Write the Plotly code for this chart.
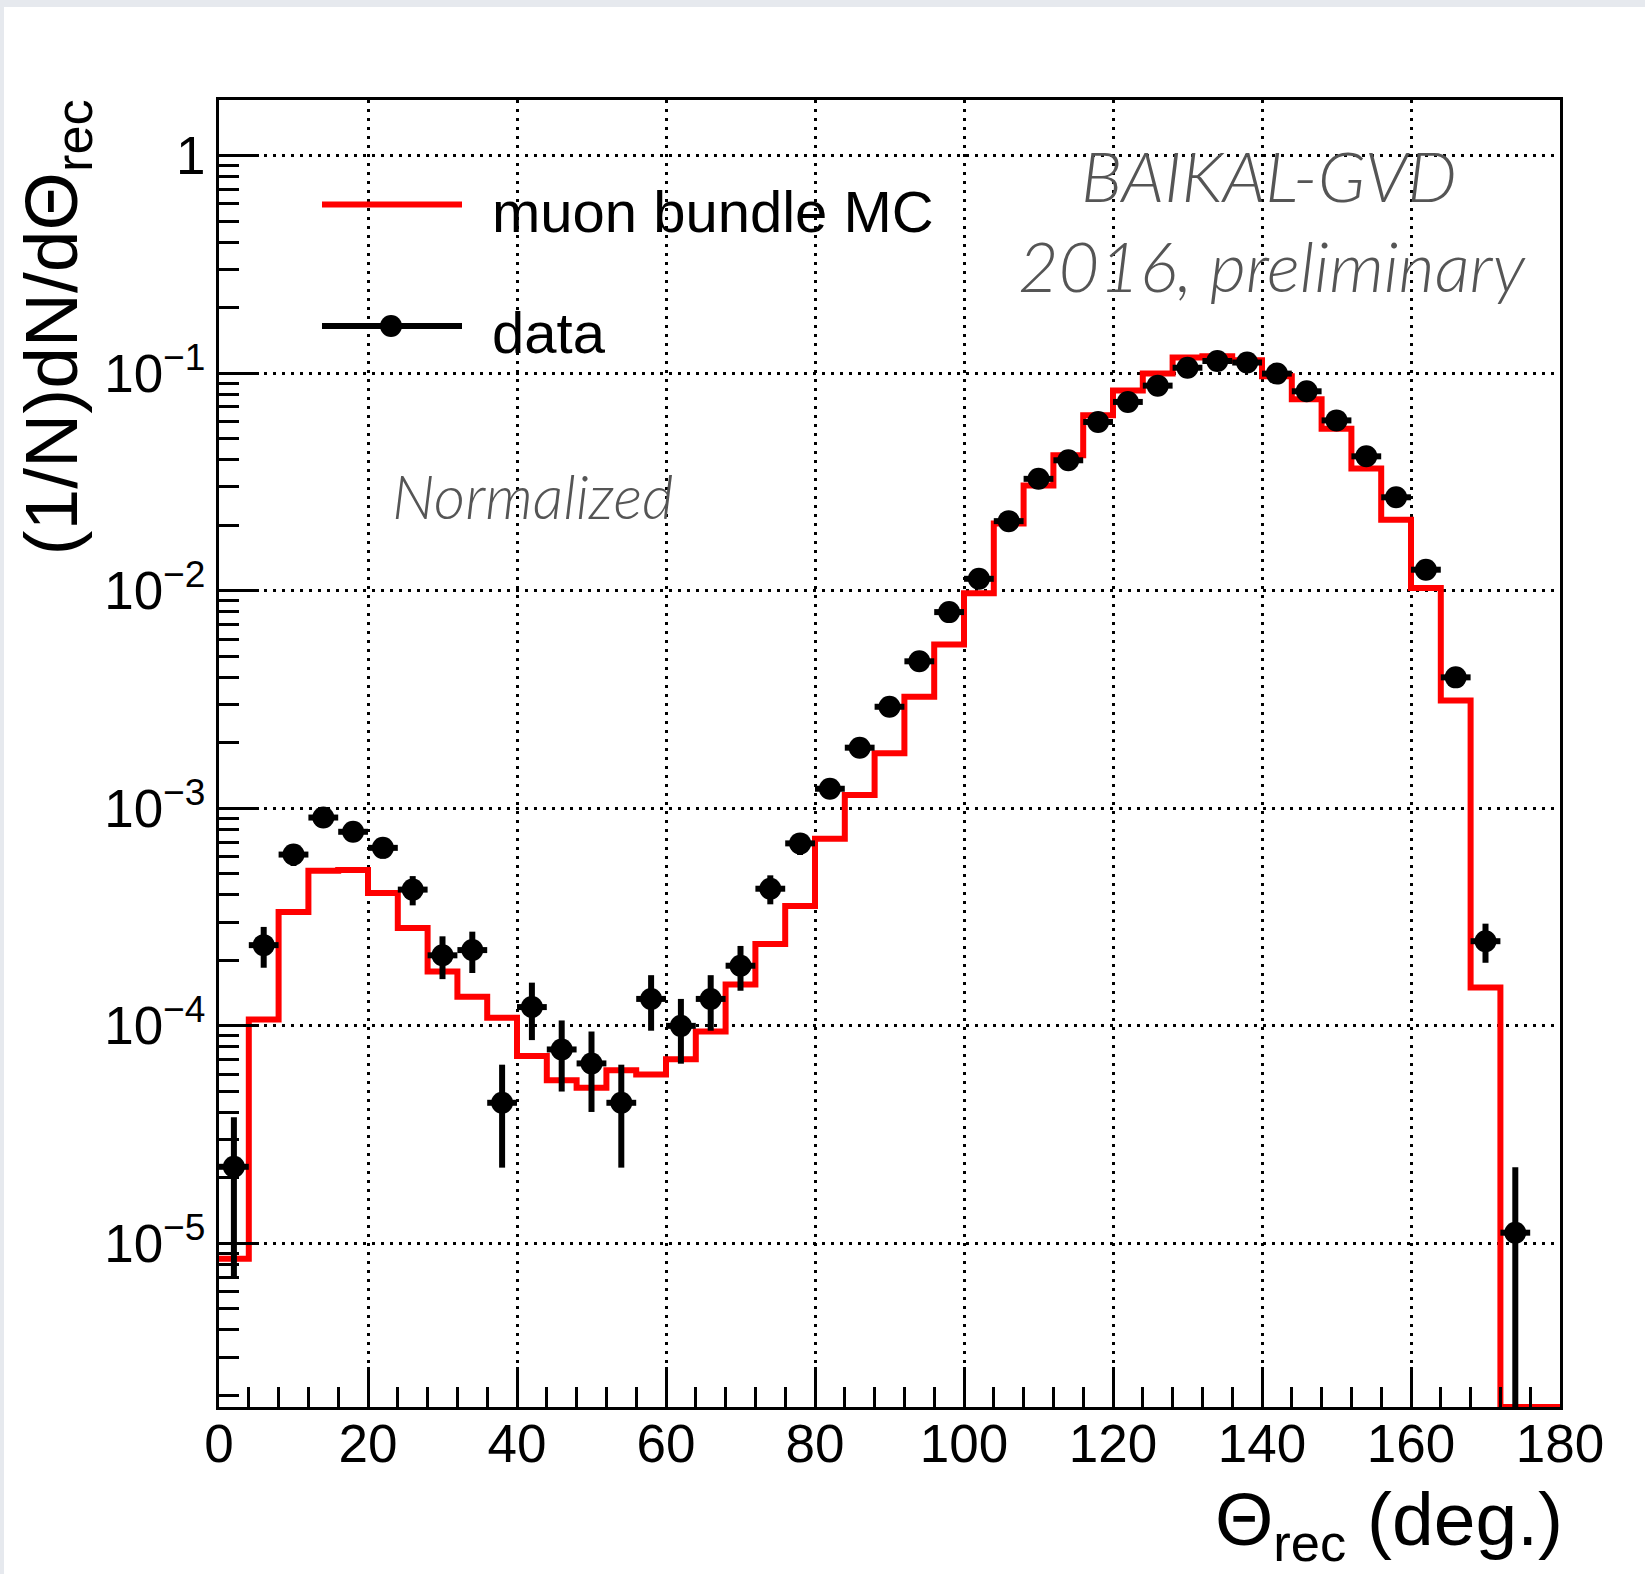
import numpy as np
import plotly.graph_objects as go

# Binning: 45 bins of 4 degrees over 0..180
bin_edges = list(range(0, 181, 4))
bin_centers = [e + 2 for e in bin_edges[:-1]]

# Normalized MC prediction (muon bundles), per bin
mc_values = [
    8.5e-6, 1.07e-4, 3.34e-4, 5.17e-4, 5.2e-4, 4.08e-4, 2.82e-4, 1.78e-4, 1.36e-4,
    1.09e-4, 7.26e-5, 5.63e-5, 5.19e-5, 6.25e-5, 5.98e-5, 7.03e-5, 9.42e-5, 1.55e-4,
    2.38e-4, 3.56e-4, 7.24e-4, 1.15e-3, 1.79e-3, 3.26e-3, 5.67e-3, 9.75e-3, 2.04e-2,
    3.05e-2, 4.20e-2, 6.41e-2, 8.34e-2, 0.0996, 0.118, 0.1196, 0.1146, 0.0968,
    0.0759, 0.0556, 0.0365, 0.0212, 0.0103, 3.13e-3, 1.50e-4, 0.0, 0.0,
]

# Normalized data, per bin (None = empty bin)
data_values = [
    2.25e-5, 2.35e-4, 6.13e-4, 9.07e-4, 7.8e-4, 6.58e-4, 4.23e-4, 2.11e-4, 2.23e-4,
    4.43e-5, 1.22e-4, 7.79e-5, 6.72e-5, 4.43e-5, 1.33e-4, 1.0e-4, 1.33e-4, 1.89e-4,
    4.27e-4, 6.9e-4, 1.23e-3, 1.90e-3, 2.93e-3, 4.74e-3, 7.98e-3, 1.135e-2, 2.09e-2,
    3.27e-2, 3.98e-2, 5.97e-2, 7.38e-2, 8.77e-2, 0.106, 0.1138, 0.112, 0.0996,
    0.0826, 0.0607, 0.0415, 0.0269, 0.0125, 4.0e-3, 2.45e-4, 1.12e-5, None,
]
data_errors = [
    1.55e-5, 5.0e-5, 7.0e-5, 8.0e-5, 7.0e-5, 7.0e-5, 6.5e-5, 4.7e-5, 4.8e-5,
    2.2e-5, 3.6e-5, 2.8e-5, 2.7e-5, 2.2e-5, 3.8e-5, 3.3e-5, 3.8e-5, 4.4e-5,
    6.5e-5, 8.0e-5, 1.0e-4, 1.3e-4, 1.6e-4, 2.0e-4, 2.6e-4, 3.1e-4, 4.2e-4,
    5.3e-4, 5.8e-4, 7.1e-4, 7.9e-4, 8.6e-4, 9.5e-4, 9.8e-4, 9.7e-4, 9.1e-4,
    8.3e-4, 7.1e-4, 5.9e-4, 4.7e-4, 3.2e-4, 1.8e-4, 5.0e-5, 1.12e-5, None,
]

x_ticks = list(range(0, 181, 20))
y_tick_vals = [1e-5, 1e-4, 1e-3, 1e-2, 1e-1, 1.0]
y_tick_text = ["10<sup>−5</sup>", "10<sup>−4</sup>", "10<sup>−3</sup>",
               "10<sup>−2</sup>", "10<sup>−1</sup>", "1"]

Y_RANGE = [-5.752, 0.256]
y_floor = 10 ** Y_RANGE[0]
y_minor = [m * 10.0 ** e for e in range(-6, 1) for m in range(2, 10)
           if Y_RANGE[0] <= np.log10(m * 10.0 ** e) <= Y_RANGE[1]]

W, H = 1645, 1574
L, R, T, B = 219, 85, 100, 167
PW, PH = W - L - R, H - T - B


def px(xp):
    return (xp - L) / PW


def py(yp):
    return (H - B - yp) / PH


SANS = "Liberation Sans, Arial, Helvetica, sans-serif"
LIGHT = "Lato, Open Sans, sans-serif"

fig = go.Figure()

# MC histogram outline (empty bins drop to the axis floor)
mc_plot = [v if v > 0 else y_floor for v in mc_values]
fig.add_trace(go.Scatter(
    x=bin_edges, y=mc_plot + [mc_plot[-1]],
    mode="lines", line=dict(color="#ff0000", width=6, shape="hv"),
    showlegend=False, hoverinfo="skip",
))

# data points with errors
dx = [c for c, v in zip(bin_centers, data_values) if v is not None]
dy = [v for v in data_values if v is not None]
de = [e for e, v in zip(data_errors, data_values) if v is not None]
fig.add_trace(go.Scatter(
    x=dx, y=dy, mode="markers",
    marker=dict(color="black", size=22),
    error_y=dict(type="data", array=de, color="black", thickness=6, width=0),
    error_x=dict(type="data", array=[2] * len(dx), color="black", thickness=6, width=0),
    showlegend=False, hoverinfo="skip",
))

shapes = [
    # light strips along the page edge
    dict(type="rect", xref="paper", yref="paper", x0=px(0), x1=px(W), y0=py(7), y1=py(0),
         fillcolor="#e6e9ee", line=dict(width=0), layer="above"),
    dict(type="rect", xref="paper", yref="paper", x0=px(0), x1=px(4), y0=py(H), y1=py(0),
         fillcolor="#e6e9ee", line=dict(width=0), layer="above"),
    # white boxes behind the legend symbols
    dict(type="rect", xref="paper", yref="paper", x0=px(310), x1=px(470), y0=py(250), y1=py(162),
         fillcolor="white", line=dict(width=0), layer="between"),
    dict(type="rect", xref="paper", yref="paper", x0=px(310), x1=px(470), y0=py(373), y1=py(279),
         fillcolor="white", line=dict(width=0), layer="between"),
    # legend symbols
    dict(type="line", xref="paper", yref="paper", x0=px(322), x1=px(462), y0=py(204.5), y1=py(204.5),
         line=dict(color="#ff0000", width=6)),
    dict(type="line", xref="paper", yref="paper", x0=px(322), x1=px(462), y0=py(326), y1=py(326),
         line=dict(color="black", width=6)),
    dict(type="circle", xref="paper", yref="paper", x0=px(380), x1=px(402), y0=py(337), y1=py(315),
         fillcolor="black", line=dict(color="black", width=0)),
]

annotations = [
    dict(text="muon bundle MC", x=px(490), y=py(212), xref="paper", yref="paper",
         xanchor="left", yanchor="middle", showarrow=False,
         font=dict(family=SANS, size=58, color="black")),
    dict(text="data", x=px(490), y=py(332), xref="paper", yref="paper",
         xanchor="left", yanchor="middle", showarrow=False,
         font=dict(family=SANS, size=58, color="black")),
    dict(text="BAIKAL-GVD", x=px(1269), y=py(175), xref="paper", yref="paper",
         xanchor="center", yanchor="middle", showarrow=False,
         font=dict(family=LIGHT, size=70, color="#555555", style="italic", weight=300)),
    dict(text="2016, preliminary", x=px(1272), y=py(265), xref="paper", yref="paper",
         xanchor="center", yanchor="middle", showarrow=False,
         font=dict(family=LIGHT, size=70, color="#555555", style="italic", weight=300)),
    dict(text="Normalized", x=px(532), y=py(496), xref="paper", yref="paper",
         xanchor="center", yanchor="middle", showarrow=False,
         font=dict(family=LIGHT, size=61, color="#555555", style="italic", weight=300)),
    # axis titles
    dict(text="(1/N)dN/dΘ<sub>rec</sub>", x=px(6), y=py(98), xref="paper", yref="paper",
         xanchor="left", yanchor="top", textangle=-90, showarrow=False,
         font=dict(family=SANS, size=75, color="black")),
    dict(text="Θ<sub>rec</sub> (deg.)", x=px(1565), y=py(1574), xref="paper", yref="paper",
         xanchor="right", yanchor="bottom", showarrow=False,
         font=dict(family=SANS, size=75, color="black")),
]

axis_common = dict(
    showline=True, linecolor="black", linewidth=3, mirror=True,
    showgrid=True, gridcolor="black", gridwidth=2.5, griddash="3px,6px",
    zeroline=False, ticks="inside", tickcolor="black", tickwidth=2.5, ticklen=40,
    tickfont=dict(family=SANS, size=53, color="black"),
)

fig.update_layout(
    width=W, height=H,
    margin=dict(l=L, r=R, t=T, b=B),
    paper_bgcolor="white", plot_bgcolor="white",
    xaxis=dict(range=[0, 180], tickmode="array", tickvals=x_ticks, ticklabelstandoff=-12,
               minor=dict(ticks="inside", dtick=4, ticklen=20, tickwidth=2.5,
                          tickcolor="black", showgrid=False),
               **axis_common),
    yaxis=dict(type="log", range=Y_RANGE, tickmode="array", tickvals=y_tick_vals,
               ticktext=y_tick_text,
               minor=dict(ticks="inside", tickmode="array", tickvals=y_minor, ticklen=20,
                          tickwidth=2.5, tickcolor="black", showgrid=False),
               **axis_common),
    shapes=shapes, annotations=annotations,
)

fig.write_html("out.html")
